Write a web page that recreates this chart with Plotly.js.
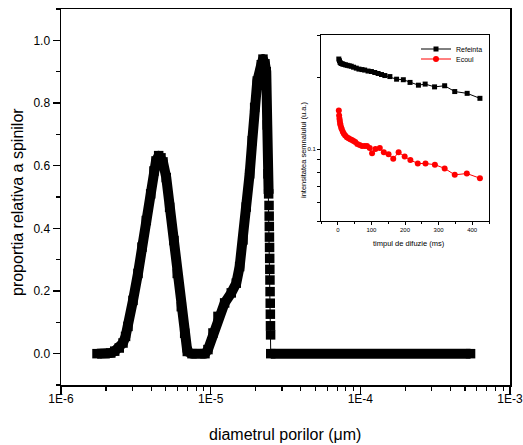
<!DOCTYPE html>
<html><head><meta charset="utf-8">
<script src="https://cdn.plot.ly/plotly-3.0.1.min.js"></script>
<style>
html,body{margin:0;padding:0;background:#fff;}
#chart{width:523px;height:445px;}
.scatterlayer .js-line{stroke-linejoin:round;}
</style>
</head><body>
<div id="chart"></div>
<script>
// Main distribution: pore diameter vs relative proportion
const diamX = [1.74e-6,1.97e-6,2.15e-6,2.285e-6,2.45e-6,2.596e-6,2.70e-6,2.803e-6,3.027e-6,3.269e-6,3.476e-6,3.714e-6,3.974e-6,4.181e-6,4.312e-6,4.494e-6,4.656e-6,4.801e-6,5.05e-6,5.32e-6,5.685e-6,5.98e-6,6.365e-6,6.706e-6,6.98e-6,7.5e-6,9.16e-6,9.59e-6,1.036e-5,1.119e-5,1.24e-5,1.373e-5,1.483e-5,1.562e-5,1.644e-5,1.729e-5,1.822e-5,1.897e-5,1.968e-5,2.048e-5,2.178e-5,2.236e-5,2.306e-5,2.352e-5,2.389e-5,2.415e-5,2.44e-5];
const propY = [0,0,0.002,0.008,0.018,0.034,0.055,0.087,0.17,0.256,0.34,0.425,0.51,0.583,0.615,0.632,0.625,0.612,0.562,0.467,0.361,0.256,0.15,0.065,0.007,0,0,0.013,0.066,0.119,0.162,0.194,0.225,0.278,0.363,0.468,0.574,0.68,0.786,0.87,0.922,0.94,0.925,0.90,0.73,0.574,0.51];
// steep drop after the second peak (sparse points)
const dropX = [2.455e-5,2.46e-5,2.465e-5,2.47e-5,2.475e-5,2.48e-5,2.485e-5,2.49e-5,2.495e-5,2.50e-5,2.505e-5,2.51e-5,2.515e-5,2.52e-5];
const dropY = [0.473,0.439,0.406,0.372,0.339,0.304,0.269,0.235,0.198,0.161,0.126,0.089,0.060,0];
// flat tail
const tailX = [2.52e-5,5.45e-4];
const tailY = [0,0];

// Inset: signal intensity vs diffusion time
const refT = [3,5,7,10,14,18,23,28,34,40,47,55,63,72,80,90,100,110,120,130,140,155,175,195,215,240,260,288,318,348,385,423];
const refV = [0.238,0.234,0.230,0.228,0.227,0.226,0.225,0.224,0.223,0.222,0.220,0.218,0.216,0.215,0.214,0.212,0.211,0.209,0.207,0.205,0.203,0.201,0.196,0.195,0.190,0.185,0.187,0.182,0.184,0.174,0.171,0.163];
const ecoT = [3,4,5,6,7,8,10,12,15,18,22,27,32,37,42,47,52,58,65,72,80,87,95,102,112,125,137,151,165,181,199,216,238,261,289,318,348,384,423];
const ecoV = [0.145,0.138,0.134,0.131,0.128,0.126,0.123,0.121,0.118,0.116,0.114,0.112,0.111,0.110,0.109,0.108,0.107,0.105,0.104,0.103,0.103,0.103,0.101,0.096,0.100,0.101,0.097,0.095,0.091,0.097,0.093,0.090,0.087,0.087,0.086,0.083,0.078,0.079,0.0755];

const mainTickVals = [1e-6,1e-5,1e-4,1e-3];
const mainTickText = ['1E-6','1E-5','1E-4','1E-3'];
const yTickVals = [0,0.2,0.4,0.6,0.8,1.0];
const yTickText = ['0.0','0.2','0.4','0.6','0.8','1.0'];
const insetXTicks = [0,100,200,300,400];
const insetYTickVals = [0.05,0.06,0.07,0.08,0.09,0.1,0.2,0.3];
const insetYTickText = ['','','','','','0.1','',''];

const FONT = 'Arial, "Liberation Sans", sans-serif';

// full series, and a band version with the sparse drop removed
const allX = diamX.concat(dropX, tailX.slice(1));
const allY = propY.concat(dropY, tailY.slice(1));
const bandY = propY.concat(dropY.map(()=>null).slice(0,-1), [dropY[dropY.length-1]], tailY.slice(1));

const minorX = [];
[1e-6,1e-5,1e-4].forEach(d=>{for(let k=2;k<=9;k++) minorX.push(k*d);});

const traces = [
  {x: allX, y: bandY, mode:'lines', line:{color:'#000', width:10}, connectgaps:false, showlegend:false, hoverinfo:'skip', xaxis:'x', yaxis:'y'},
  {x: allX, y: allY, mode:'lines+markers', line:{color:'#000', width:1}, marker:{symbol:'square', size:9.5, color:'#000'}, showlegend:false, xaxis:'x', yaxis:'y'},
  {x: refT, y: refV, name:'Refeinta', mode:'lines+markers', line:{color:'#000', width:1}, marker:{symbol:'square', size:5, color:'#000'}, xaxis:'x2', yaxis:'y2', legend:'legend'},
  {x: ecoT, y: ecoV, name:'Ecoul', mode:'lines+markers', line:{color:'#ff0000', width:1}, marker:{symbol:'circle', size:6, color:'#ff0000'}, xaxis:'x2', yaxis:'y2', legend:'legend2'}
];

const W = 523, H = 445, L = 61, R = 13, T = 9, B = 60;
const pw = W-L-R, ph = H-T-B;
const px = v => (v-L)/pw;
const py = v => (H-B-v)/ph;

const layout = {
  width: W, height: H,
  margin:{l:L, r:R, t:T, b:B, pad:0},
  paper_bgcolor:'#fff', plot_bgcolor:'#fff',
  font:{family:FONT, color:'#000'},
  xaxis:{type:'log', range:[-6,-3], domain:[0,1], showline:true, linecolor:'#000', linewidth:1.5, mirror:true,
    tickmode:'array', tickvals:mainTickVals, ticktext:mainTickText, ticks:'outside', ticklen:7, tickwidth:1.5, tickcolor:'#000',
    ticklabelstandoff:-5,
    tickfont:{size:12, family:FONT}, showgrid:false, zeroline:false,
    minor:{tickmode:'array', tickvals:minorX, ticks:'outside', ticklen:4, tickwidth:1.2, tickcolor:'#000', showgrid:false}},
  yaxis:{range:[-0.1,1.1], domain:[0,1], showline:true, linecolor:'#000', linewidth:1.5, mirror:true,
    tickmode:'array', tickvals:yTickVals, ticktext:yTickText, ticks:'outside', ticklen:7, tickwidth:1.5, tickcolor:'#000',
    tickfont:{size:12, family:FONT}, showgrid:false, zeroline:false,
    minor:{dtick:0.1, tick0:0, ticks:'outside', ticklen:4, tickwidth:1.2, tickcolor:'#000', showgrid:false}},
  xaxis2:{anchor:'y2', domain:[px(321), px(489)], range:[-50,450], showline:true, linecolor:'#000', linewidth:1, mirror:true,
    tickmode:'array', tickvals:insetXTicks, ticks:'outside', ticklen:3, tickwidth:1, tickcolor:'#000',
    tickfont:{size:6, family:FONT}, showgrid:false, zeroline:false,
    minor:{dtick:50, tick0:-50, ticks:'outside', ticklen:2, tickwidth:1, tickcolor:'#000', showgrid:false}},
  yaxis2:{anchor:'x2', type:'log', domain:[py(221), py(35)], range:[Math.log10(0.05), Math.log10(0.3)], showline:true, linecolor:'#000', linewidth:1, mirror:true,
    tickmode:'array', tickvals:insetYTickVals, ticktext:insetYTickText, ticks:'outside', ticklen:3, tickwidth:1, tickcolor:'#000',
    tickfont:{size:6, family:FONT}, showgrid:false, zeroline:false},
  legend:{x:px(416), y:py(49), xanchor:'left', yanchor:'middle', bgcolor:'rgba(0,0,0,0)', borderwidth:0, font:{size:7, family:FONT}, tracegroupgap:0},
  legend2:{x:px(416), y:py(59), xanchor:'left', yanchor:'middle', bgcolor:'rgba(0,0,0,0)', borderwidth:0, font:{size:7, family:FONT}, tracegroupgap:0},
  annotations:[
    {text:'diametrul porilor (μm)', xref:'paper', yref:'paper', x:px(285), y:py(435), xanchor:'center', yanchor:'middle', showarrow:false, font:{size:16, family:FONT}},
    {text:'proportia relativa a spinilor', xref:'paper', yref:'paper', x:px(17), y:py(202), xanchor:'center', yanchor:'middle', textangle:-90, showarrow:false, font:{size:16, family:FONT}},
    {text:'timpul de difuzie (ms)', xref:'paper', yref:'paper', x:px(409), y:py(243), xanchor:'center', yanchor:'middle', showarrow:false, font:{size:7.5, family:FONT}},
    {text:'intensitatea semnalului (u.a.)', xref:'paper', yref:'paper', x:px(303), y:py(150), xanchor:'center', yanchor:'middle', textangle:-90, showarrow:false, font:{size:7.5, family:FONT}}
  ]
};

Plotly.newPlot('chart', traces, layout, {staticPlot:true, displayModeBar:false});
</script>
</body></html>
